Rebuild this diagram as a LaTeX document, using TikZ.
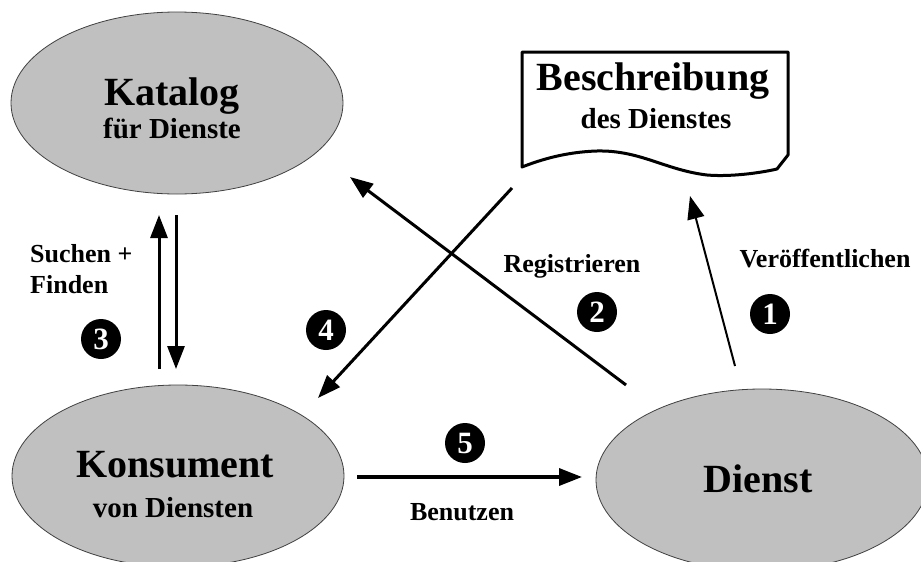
\documentclass[tikz,border=0pt]{standalone}
\usepackage{fontspec}
\setmainfont{Liberation Serif}
\usetikzlibrary{shapes.geometric,arrows.meta}

\tikzset{
  blob/.style={ellipse, draw=black!75, line width=0.8pt, fill=blobgray,
               minimum width=332pt, minimum height=182pt, inner sep=0pt},
  titletext/.style={font=\bfseries\fontsize{40}{43}\selectfont, anchor=base, inner sep=0pt},
  subtext/.style={font=\bfseries\fontsize{29}{32}\selectfont, anchor=base, inner sep=0pt},
  labeltext/.style={font=\bfseries\fontsize{26}{29}\selectfont, anchor=base, inner sep=0pt},
  numdot/.style={circle, fill=black, minimum size=40pt, inner sep=0pt,
                 text=white, font=\bfseries\fontsize{31}{31}\selectfont},
  flow/.style={line width=3pt, -{Triangle[length=23pt,width=17pt]}},
}
\definecolor{blobgray}{HTML}{C0C0C0}

\begin{document}
\begin{tikzpicture}[x=1pt,y=-1pt]
  \useasboundingbox (0,0) rectangle (921,562);
  \clip (0,0) rectangle (921,562);

  % the three roles
  \node[blob] (kat) at (177,103) {};
  \node[blob] (kon) at (178,476) {};
  \node[blob] (dienst) at (762,480) {};

  \node[titletext] (katT) at (172,105) {Katalog};
  \node[subtext]   (katS) at (172,138) {für Dienste};
  \node[titletext] (konT) at (175,477) {Konsument};
  \node[subtext]   (konS) at (173,517) {von Diensten};
  \node[titletext] (dieT) at (758,492) {Dienst};

  % service description sheet with wavy lower edge
  \draw[line width=3pt, fill=white, line join=round]
    (522,52) -- (788,52) -- (788,155) -- (777,169)
    .. controls (760,173) and (730,177) .. (707,175)
    .. controls (665,170) and (640,150) .. (597,151)
    .. controls (565,152) and (540,160) .. (522,167) -- cycle;
  \node[titletext] (docT) at (653,90) {Beschreibung};
  \node[subtext]   (docS) at (656,128) {des Dienstes};

  % arrow end points
  \coordinate (pubA) at (735,366);
  \coordinate (pubB) at (690,196);
  \coordinate (regA) at (626,385);
  \coordinate (regB) at (350,177);
  \coordinate (finA) at (512,188);
  \coordinate (finB) at (318,398);
  \coordinate (upA) at (159,369);
  \coordinate (upB) at (159,215);
  \coordinate (dnA) at (176,215);
  \coordinate (dnB) at (176,369);
  \coordinate (useA) at (357,477);
  \coordinate (useB) at (582,477);

  % connectors
  \draw[flow, line width=2pt] (pubA) -- (pubB);
  \draw[flow] (regA) -- (regB);
  \draw[flow] (finA) -- (finB);
  \draw[flow] (upA) -- (upB);
  \draw[flow] (dnA) -- (dnB);
  \draw[flow, line width=3.5pt] (useA) -- (useB);

  % labels
  \node[labeltext] (lPub) at (825,267) {Veröffentlichen};
  \node[labeltext] (lReg) at (572,272) {Registrieren};
  \node[labeltext, anchor=base west] (lSuch) at (30,262) {Suchen +};
  \node[labeltext, anchor=base west] (lFind) at (30,293) {Finden};
  \node[labeltext] (lUse) at (462,520) {Benutzen};

  % step numbers
  \node[numdot] (n1) at (770,314) {1};
  \node[numdot] (n2) at (597,312) {2};
  \node[numdot] (n3) at (101,339) {3};
  \node[numdot] (n4) at (326,330) {4};
  \node[numdot] (n5) at (465,443) {5};
\end{tikzpicture}
\end{document}
